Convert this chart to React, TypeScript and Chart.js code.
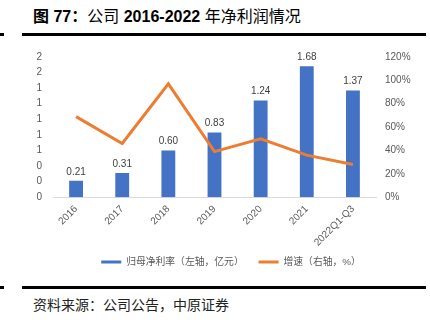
import React, { useEffect, useRef } from "react";
import { Chart, registerables } from "chart.js";

Chart.register(...registerables);

const categories = ["2016", "2017", "2018", "2019", "2020", "2021", "2022Q1-Q3"];
const netProfit = [0.21, 0.31, 0.6, 0.83, 1.24, 1.68, 1.37];
const growth = [69, 46, 97, 39, 50, 36, 28];
const barLabel = "归母净利率（左轴，亿元）";
const lineLabel = "增速（右轴，%）";

const FONT = "'Liberation Sans', 'Noto Sans CJK SC', sans-serif";
const BLUE = "#4472C4";
const ORANGE = "#ED7D31";

const valueLabels = {
  id: "valueLabels",
  afterDatasetsDraw(chart: any) {
    const ctx = chart.ctx;
    const meta = chart.getDatasetMeta(0);
    ctx.save();
    ctx.font = "10px " + FONT;
    ctx.fillStyle = "#404040";
    ctx.textAlign = "center";
    ctx.textBaseline = "bottom";
    meta.data.forEach((el: any, i: number) => {
      ctx.fillText(netProfit[i].toFixed(2), el.x, el.y - 4);
    });
    ctx.restore();
  },
};

export default function App() {
  const ref = useRef<HTMLCanvasElement>(null);
  useEffect(() => {
    if (!ref.current) return;
    const chart = new Chart(ref.current, {
      type: "bar",
      data: {
        labels: categories,
        datasets: [
          {
            type: "bar",
            label: barLabel,
            data: netProfit,
            backgroundColor: BLUE,
            yAxisID: "y",
            barPercentage: 0.6,
            categoryPercentage: 0.5,
            order: 2,
          } as any,
          {
            type: "line",
            label: lineLabel,
            data: growth,
            borderColor: ORANGE,
            backgroundColor: ORANGE,
            borderWidth: 3,
            pointRadius: 0,
            tension: 0,
            yAxisID: "y1",
            order: 1,
          } as any,
        ],
      },
      options: {
        animation: false,
        responsive: false,
        maintainAspectRatio: false,
        layout: { padding: { top: 17, left: 32, right: 0, bottom: 0 } },
        plugins: {
          tooltip: { enabled: false },
          legend: {
            position: "bottom",
            labels: {
              boxWidth: 20,
              boxHeight: 3,
              padding: 10,
              color: "#595959",
              font: { size: 9.8, family: FONT },
              generateLabels: (c: any) =>
                c.data.datasets.map((ds: any, i: number) => ({
                  text: i === 0 ? ds.label + "\u3000" : ds.label,
                  fillStyle: i === 0 ? BLUE : ORANGE,
                  strokeStyle: i === 0 ? BLUE : ORANGE,
                  lineWidth: 0,
                  hidden: false,
                  datasetIndex: i,
                  fontColor: "#595959",
                })),
            },
          },
        },
        scales: {
          x: {
            grid: { display: false, drawTicks: false },
            border: { display: true, color: "#D9D9D9", width: 1 },
            ticks: {
              color: "#595959",
              font: { size: 10, family: FONT },
              minRotation: 45,
              maxRotation: 45,
              padding: 6,
              autoSkip: false,
            },
            afterFit: (s: any) => {
              s.height = 50;
            },
          },
          y: {
            position: "left",
            min: 0,
            max: 1.8,
            grid: { display: false, drawTicks: false },
            border: { display: false },
            ticks: {
              stepSize: 0.2,
              autoSkip: false,
              color: "#595959",
              font: { size: 10, family: FONT },
              padding: 11,
              callback: (v: any) => Math.round(Number(v)).toString(),
            },
            afterFit: (s: any) => {
              s.width = 21;
            },
          },
          y1: {
            position: "right",
            min: 0,
            max: 120,
            grid: { display: false, drawTicks: false },
            border: { display: false },
            ticks: {
              stepSize: 20,
              autoSkip: false,
              color: "#595959",
              font: { size: 10, family: FONT },
              padding: 9,
              callback: (v: any) => Math.round(Number(v)) + "%",
            },
            afterFit: (s: any) => {
              s.width = 54;
            },
          },
        },
      },
      plugins: [valueLabels],
    } as any);
    return () => chart.destroy();
  }, []);

  return (
    <div
      style={{
        position: "absolute",
        left: 0,
        top: 0,
        width: 430,
        height: 326,
        background: "#fff",
        fontFamily: FONT,
        overflow: "hidden",
      }}
    >
      <div
        style={{
          position: "absolute",
          left: 33,
          top: 8,
          fontSize: 16,
          lineHeight: "18px",
          color: "#000",
          whiteSpace: "nowrap",
        }}
      >
        <b>图 77：</b>公司 <b>2016-2022</b> 年净利润情况
      </div>
      <div style={{ position: "absolute", left: 0, top: 33, width: 4, height: 2.5, background: "#000" }} />
      <div style={{ position: "absolute", left: 22, top: 33, width: 404, height: 2.5, background: "#000" }} />
      <canvas
        ref={ref}
        width={430}
        height={237}
        style={{ position: "absolute", left: 0, top: 40, width: 430, height: 237 }}
      />
      <div style={{ position: "absolute", left: 0, top: 286, width: 4, height: 2.5, background: "#000" }} />
      <div style={{ position: "absolute", left: 22, top: 286, width: 404, height: 2.5, background: "#000" }} />
      <div
        style={{
          position: "absolute",
          left: 33,
          top: 296,
          fontSize: 14,
          lineHeight: "18px",
          color: "#222",
          whiteSpace: "nowrap",
        }}
      >
        资料来源：公司公告，中原证券
      </div>
    </div>
  );
}
